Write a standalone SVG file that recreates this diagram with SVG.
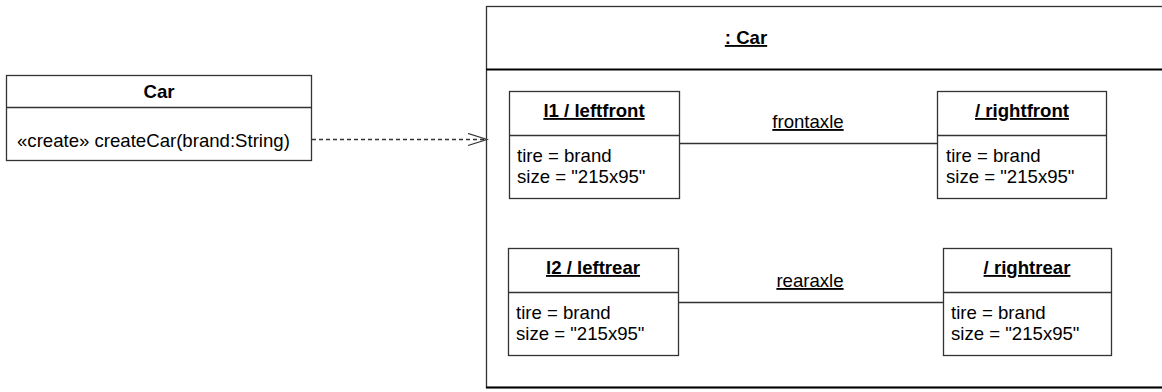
<svg xmlns="http://www.w3.org/2000/svg" width="1162" height="392" viewBox="0 0 1162 392">
<style>
text{font-family:"Liberation Sans",Arial,sans-serif;font-size:18.6px;fill:#000}
.b{font-weight:bold}
.u{text-decoration:underline}
.c{text-anchor:middle}
.box{fill:#fff;stroke:#333;stroke-width:1.3}
.div{stroke:#333;stroke-width:1.3}
.link{stroke:#333;stroke-width:1.3;fill:none}
</style>
<defs>
<marker id="open" markerWidth="22" markerHeight="14" refX="20" refY="7" orient="auto" markerUnits="userSpaceOnUse">
<path d="M1,1 L20,7 L1,13" fill="none" stroke="#333" stroke-width="1.3"/>
</marker>
</defs>
<rect width="1162" height="392" fill="#fff"/>
<g id="carClass">
<rect class="box" x="6.5" y="75.5" width="305" height="85"/>
<line class="div" x1="6.5" y1="107.5" x2="311.5" y2="107.5"/>
<text class="b c" x="159" y="98">Car</text>
<text x="17" y="147">«create» createCar(brand:String)</text>
</g>
<g id="carInstance">
<rect x="486.5" y="6.5" width="690" height="381" fill="#fff" stroke="#333" stroke-width="1.3"/>
<line x1="486" y1="69.5" x2="1162" y2="69.5" stroke="#000" stroke-width="2"/>
<line x1="486" y1="387.5" x2="1162" y2="387.5" stroke="#000" stroke-width="2"/>
<text class="b u c" x="746" y="44">: Car</text>
</g>
<g id="connectors">
<line class="link" x1="312" y1="139.5" x2="487" y2="139.5" stroke-dasharray="4,3" marker-end="url(#open)"/>
<line class="link" x1="679" y1="143.5" x2="937" y2="143.5"/>
<text class="u c" x="808" y="128">frontaxle</text>
<line class="link" x1="678" y1="302.5" x2="943" y2="302.5"/>
<text class="u c" x="810" y="287">rearaxle</text>
</g>
<g id="leftfront">
<rect class="box" x="509.5" y="91.5" width="170" height="107"/>
<line class="div" x1="509.5" y1="135.5" x2="679.5" y2="135.5"/>
<text class="b u c" x="594" y="117">l1 / leftfront</text>
<text x="517" y="162">tire = brand</text>
<text x="517" y="183">size = "215x95"</text>
</g>
<g id="rightfront">
<rect class="box" x="937.5" y="91.5" width="169" height="107"/>
<line class="div" x1="937.5" y1="135.5" x2="1106.5" y2="135.5"/>
<text class="b u c" x="1022" y="117">/ rightfront</text>
<text x="946" y="162">tire = brand</text>
<text x="946" y="183">size = "215x95"</text>
</g>
<g id="leftrear">
<rect class="box" x="508.5" y="248.5" width="170" height="107"/>
<line class="div" x1="508.5" y1="292.5" x2="678.5" y2="292.5"/>
<text class="b u c" x="593" y="274">l2 / leftrear</text>
<text x="516" y="319">tire = brand</text>
<text x="516" y="340">size = "215x95"</text>
</g>
<g id="rightrear">
<rect class="box" x="943.5" y="248.5" width="168" height="107"/>
<line class="div" x1="943.5" y1="292.5" x2="1111.5" y2="292.5"/>
<text class="b u c" x="1027" y="274">/ rightrear</text>
<text x="951" y="319">tire = brand</text>
<text x="951" y="340">size = "215x95"</text>
</g>
</svg>
